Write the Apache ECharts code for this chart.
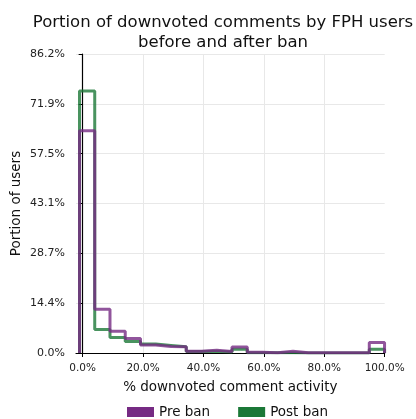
<!DOCTYPE html>
<html>
<head>
<meta charset="utf-8">
<script src="https://cdn.jsdelivr.net/npm/echarts@6/dist/echarts.min.js"></script>
<style>
  html, body { margin: 0; padding: 0; background: #fff; }
  #hist_chart { width: 416px; height: 419px; }
</style>
</head>
<body>
<div id="hist_chart"></div>
<script>
// bin edges (% downvoted comment activity) and bin heights (% of users)
const bin_edges = [-1.05, 4.0, 9.05, 14.1, 19.15, 24.2, 29.25, 34.3, 39.35, 44.4, 49.45,
                   54.5, 59.55, 64.6, 69.65, 74.7, 79.75, 84.8, 89.85, 94.9, 99.95];
const pre_ban  = [64.1, 12.6, 6.3, 4.2, 2.3, 1.9, 1.8, 0.5, 0.8, 0.4,
                  1.7, 0.2, 0.1, 0.5, 0.1, 0.1, 0.1, 0.1, 0.1, 3.0];
const post_ban = [75.6, 6.8, 4.5, 3.3, 2.6, 2.2, 1.8, 0.4, 0.5, 0.3,
                  1.1, 0.1, 0.1, 0.1, 0.0, 0.0, 0.0, 0.0, 0.0, 1.1];
const x_ticks = [0, 20, 40, 60, 80, 100];
const y_max = 86.24;

const purple = '#762a83';
const green = '#1b7837';

// outline of a step histogram, like histtype='step'
function step_path(edges, vals) {
  var pts = [[edges[0], 0]];
  for (let i = 0; i < vals.length; i++) {
    pts.push([edges[i], vals[i]]);
    pts.push([edges[i + 1], vals[i]]);
  }
  pts.push([edges[edges.length - 1], 0]);
  return pts;
}

var chartDom = document.getElementById('hist_chart');
var myChart = echarts.init(chartDom);
var font = 'DejaVu Sans';

var option = {
  animation: false,
  textStyle: {fontFamily: font},
  title: {
    text: 'Portion of downvoted comments by FPH users\nbefore and after ban',
    left: 218, top: 8, textAlign: 'center',
    textStyle: {fontFamily: font, fontSize: 16.5, fontWeight: 'normal', color: '#111', lineHeight: 19.5}
  },
  legend: {
    data: ['Pre ban', 'Post ban'],
    left: 122, top: 400,
    icon: 'rect', itemWidth: 27, itemHeight: 10, itemGap: 28,
    textStyle: {fontFamily: font, fontSize: 13.5, color: '#111'}
  },
  grid: {left: 76, right: 31.3, top: 54, bottom: 66, containLabel: false, outerBoundsMode: 'none'},
  xAxis: {
    type: 'value', min: -2.2, max: 100,
    name: '% downvoted comment activity', nameLocation: 'middle', nameGap: 27, nameMoveOverlap: false,
    nameTextStyle: {fontFamily: font, fontSize: 13.5, color: '#111'},
    axisLine: {show: true, onZero: false, lineStyle: {color: '#000', width: 1.2}},
    axisTick: {show: true, length: 4, customValues: x_ticks, lineStyle: {color: '#000'}},
    axisLabel: {customValues: x_ticks, margin: 10, fontSize: 10.5, color: '#222',
                formatter: (v) => v.toFixed(1) + '%'},
    splitLine: {show: false}
  },
  yAxis: {
    type: 'value', min: 0, max: y_max, interval: y_max / 6,
    name: 'Portion of users', nameLocation: 'middle', nameGap: 53, nameMoveOverlap: false,
    nameTextStyle: {fontFamily: font, fontSize: 13.5, color: '#111'},
    axisLine: {show: true, lineStyle: {color: '#000', width: 1.2}},
    axisTick: {show: true, length: 4, lineStyle: {color: '#000'}},
    axisLabel: {margin: 11, fontSize: 11, color: '#222',
                formatter: (v) => v.toFixed(1) + '%'},
    splitLine: {show: true, lineStyle: {color: '#e8e8e8', width: 1}}
  },
  series: [
    {
      name: 'Post ban', type: 'line', data: step_path(bin_edges, post_ban),
      showSymbol: false, itemStyle: {color: green},
      lineStyle: {color: green, width: 3, opacity: 0.8},
      markLine: {
        silent: true, symbol: 'none', label: {show: false},
        lineStyle: {color: '#e8e8e8', width: 1, type: 'solid'},
        z: 0,
        data: [0, 20, 40, 60, 80].map(v => ({xAxis: v}))
      },
      z: 3
    },
    {
      name: 'Pre ban', type: 'line', data: step_path(bin_edges, pre_ban),
      showSymbol: false, itemStyle: {color: purple},
      lineStyle: {color: purple, width: 3, opacity: 0.8},
      z: 4
    }
  ]
};

option && myChart.setOption(option);
</script>
</body>
</html>
